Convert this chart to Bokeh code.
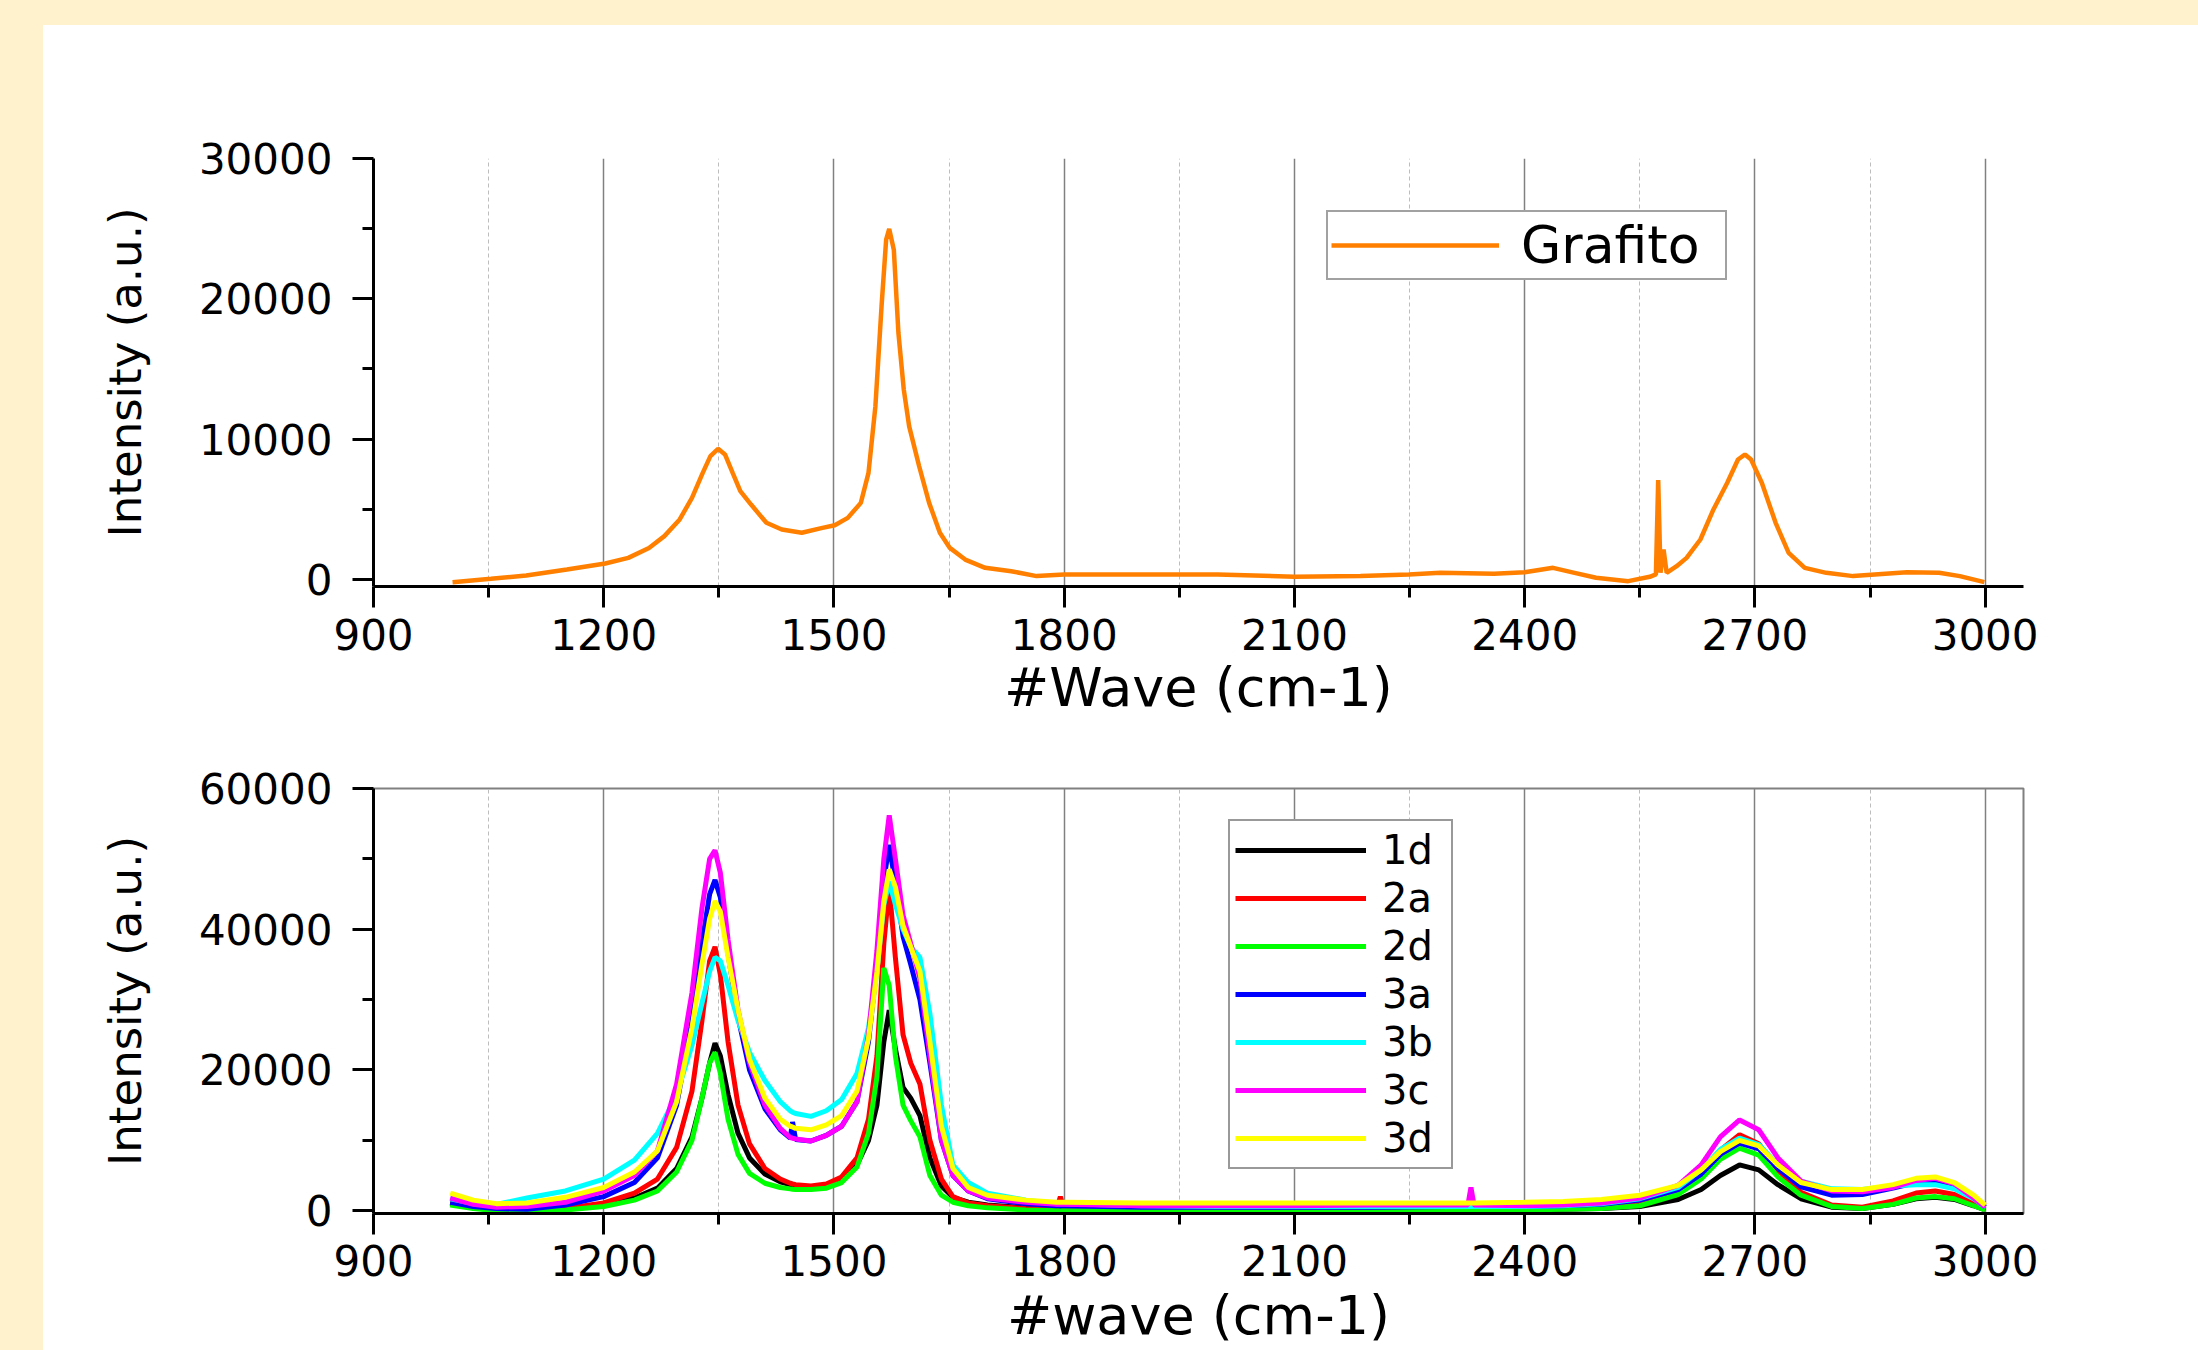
from bokeh.plotting import figure
from bokeh.models import Range1d, FixedTicker, NumeralTickFormatter, Spacer
from bokeh.layouts import column, row
from bokeh.embed import file_html
from bokeh.resources import INLINE

# ---------------- data ----------------
X_TICKS = [900, 1200, 1500, 1800, 2100, 2400, 2700, 3000]
X_MINOR = [1050, 1350, 1650, 1950, 2250, 2550, 2850]
Y1_TICKS = [0, 10000, 20000, 30000]
Y1_MINOR = [5000, 15000, 25000]
Y2_TICKS = [0, 20000, 40000, 60000]
Y2_MINOR = [10000, 30000, 50000]

grafito_x = [1003, 1053, 1099, 1152, 1202, 1232, 1259, 1279, 1299, 1315,
             1329, 1339, 1349, 1358, 1368, 1378, 1392, 1412, 1432, 1458,
             1485, 1501, 1518, 1535, 1545, 1554, 1562, 1568, 1572, 1578,
             1584, 1591, 1598, 1611, 1624, 1638, 1651, 1671, 1697, 1731,
             1764, 1800, 1863, 1937, 2000, 2100, 2186, 2249, 2290, 2360,
             2400, 2437, 2465, 2493, 2535, 2563, 2571, 2574, 2577, 2581,
             2585, 2598, 2611, 2629, 2646, 2664, 2678, 2687, 2695, 2709,
             2727, 2744, 2765, 2793, 2828, 2856, 2898, 2940, 2967, 2999]
grafito_y = [-190, 50, 285, 710, 1140, 1540, 2250, 3090, 4280, 5820,
             7600, 8790, 9310, 8910, 7600, 6300, 5340, 4040, 3560, 3330,
             3680, 3870, 4390, 5460, 7600, 12350, 19470, 24220, 24980, 23500,
             17560, 13520, 10910, 8070, 5460, 3330, 2250, 1420, 830, 590,
             240, 360, 360, 360, 360, 190, 240, 360, 475, 400,
             520, 830, 475, 120, -120, 190, 360, 7080, 475, 2140,
             475, 950, 1540, 2850, 4990, 6890, 8550, 8910, 8550, 6890,
             4040, 1900, 830, 475, 240, 360, 520, 475, 240, -190]

wave = [1000, 1030, 1060, 1100, 1150, 1200, 1240, 1270, 1295, 1315,
        1328, 1338, 1345, 1352, 1362, 1375, 1390, 1410, 1430, 1443,
        1446, 1450, 1470, 1490, 1510, 1530, 1545, 1556, 1565, 1572,
        1580, 1590, 1600, 1612, 1625, 1640, 1655, 1675, 1700, 1750,
        1790, 1795, 1800, 1900, 2000, 2100, 2200, 2300, 2326, 2330,
        2334, 2400, 2450, 2500, 2550, 2600, 2630, 2655, 2680, 2705,
        2730, 2760, 2800, 2840, 2880, 2910, 2935, 2960, 2985, 3000]

s_1d = [1000, 400, 100, 0, 200, 800, 1800, 3200, 6000, 10500,
        16000, 21000, 23800, 22000, 16500, 11000, 7500, 5200, 4100, 3700,
        3600, 3500, 3400, 3600, 4400, 6500, 10000, 15000, 24000, 28500,
        23000, 17500, 16000, 13500, 7500, 3500, 1900, 1200, 800, 400,
        200, 200, 200, 0, 0, 0, 0, 0, 0, 0,
        0, 100, 200, 300, 600, 1600, 3000, 5000, 6500, 5800,
        3700, 1700, 500, 300, 900, 1700, 1900, 1600, 700, 100]
s_2a = [1200, 500, 200, 0, 300, 1100, 2500, 4500, 9000, 17000,
        27000, 35500, 37500, 33500, 24000, 15000, 9500, 6000, 4500, 3900,
        3800, 3700, 3500, 3800, 4800, 7500, 13000, 22000, 38000, 46000,
        36000, 25000, 21000, 18000, 10000, 4500, 2000, 1100, 700, 300,
        200, 2000, 200, 100, 100, 100, 100, 100, 100, 100,
        100, 200, 300, 500, 1000, 2800, 5200, 8600, 10800, 9500,
        5800, 2600, 800, 500, 1400, 2500, 2800, 2300, 1000, 200]
s_2d = [800, 300, 0, 0, 100, 600, 1500, 2800, 5500, 10000,
        16000, 21000, 22500, 19500, 13000, 8000, 5300, 3900, 3300, 3100,
        3050, 3000, 3000, 3200, 4000, 6200, 11000, 19000, 34500, 32000,
        22000, 15000, 12800, 10500, 5000, 2200, 1200, 700, 400, 100,
        0, 0, 0, 0, 0, 0, 0, 0, 0, 0,
        0, 100, 200, 300, 700, 2300, 4500, 7300, 8900, 7900,
        4800, 2200, 600, 300, 900, 1800, 2000, 1700, 700, 100]
s_3a = [1200, 600, 300, 200, 800, 2000, 4000, 7500, 15000, 27000,
        38000, 45000, 47000, 44500, 36500, 27500, 20000, 14500, 11500, 10300,
        12600, 10100, 9900, 10700, 12000, 15500, 24000, 35000, 47000, 52000,
        46500, 39000, 35000, 30000, 21000, 10000, 5000, 2800, 1700, 1000,
        700, 700, 700, 500, 500, 500, 500, 600, 600, 600,
        600, 600, 700, 900, 1500, 3000, 5200, 8000, 9600, 8800,
        6000, 3400, 2200, 2300, 3200, 4000, 4200, 3500, 1800, 500]
s_3b = [1700, 1000, 900, 1800, 2800, 4500, 7200, 11000, 16500, 23500,
        29500, 34000, 36000, 35500, 32000, 27000, 22500, 18500, 15500, 14200,
        14000, 13800, 13400, 14200, 15800, 19500, 26000, 34000, 43500, 46800,
        43500, 40000, 37500, 36000, 28000, 15000, 6500, 4000, 2500, 1500,
        1000, 1000, 1000, 700, 600, 600, 600, 600, 600, 600,
        600, 600, 700, 1000, 1700, 3300, 5800, 8700, 10300, 9400,
        6500, 4200, 3100, 3000, 3500, 3700, 3700, 3100, 1700, 500]
s_3c = [1800, 900, 500, 600, 1200, 2800, 5000, 8500, 18000, 31000,
        43000, 50000, 51200, 48000, 38500, 28500, 21000, 15000, 11700, 10400,
        10300, 10200, 9900, 10700, 12000, 15500, 25000, 37000, 50000, 56200,
        50000, 42000, 38000, 33000, 22000, 10000, 5000, 2800, 1800, 1200,
        900, 900, 900, 700, 700, 700, 800, 800, 800, 3300,
        800, 700, 800, 1100, 1800, 3600, 6500, 10500, 12900, 11500,
        7500, 4200, 2800, 2700, 3300, 4300, 4600, 3800, 1800, 500]
s_3d = [2500, 1500, 1000, 1100, 1900, 3300, 5500, 8500, 15500, 26000,
        35000, 41500, 44000, 42500, 36000, 28500, 21500, 16000, 13000, 12000,
        11900, 11700, 11500, 12200, 13500, 17000, 24500, 34000, 44000, 48500,
        46000, 40500, 37500, 34000, 24000, 12000, 6000, 3300, 2200, 1500,
        1200, 1200, 1200, 1100, 1100, 1100, 1100, 1100, 1100, 1100,
        1100, 1200, 1300, 1600, 2200, 3600, 5800, 8400, 10000, 9200,
        6500, 4000, 3000, 3000, 3700, 4600, 4800, 4000, 2200, 800]

series_names = ["1d", "2a", "2d", "3a", "3b", "3c", "3d"]
series_values = [s_1d, s_2a, s_2d, s_3a, s_3b, s_3c, s_3d]
series_colors = ["#000000", "#FF0000", "#00FF00", "#0000FF", "#00FFFF", "#FF00FF", "#FFFF00"]

# ---------------- styling ----------------
FONT = "DejaVu Sans"
CREAM = "#FFF2CC"


def style(p, yticks, yminor):
    p.xaxis.ticker = FixedTicker(ticks=X_TICKS, minor_ticks=X_MINOR)
    p.yaxis.ticker = FixedTicker(ticks=yticks, minor_ticks=yminor)
    for ax in (p.xaxis[0], p.yaxis[0]):
        ax.axis_line_width = 3
        ax.axis_line_color = "black"
        ax.major_tick_line_width = 3
        ax.minor_tick_line_width = 3
        ax.major_tick_line_color = "black"
        ax.minor_tick_line_color = "black"
        ax.major_tick_in = 0
        ax.minor_tick_in = 0
        ax.major_tick_out = 21
        ax.minor_tick_out = 11
        ax.major_label_text_font = FONT
        ax.major_label_text_font_size = "42px"
        ax.major_label_text_color = "black"
        ax.axis_label_text_font = FONT
        ax.axis_label_text_font_style = "normal"
        ax.axis_label_text_color = "black"
        ax.formatter = NumeralTickFormatter(format="0")
    p.xaxis.major_label_standoff = 11
    p.xaxis.axis_label_text_font_size = "54px"
    p.yaxis.major_label_standoff = 20
    p.yaxis.axis_label = "Intensity (a.u.)"
    p.yaxis.axis_label_text_font_size = "45px"
    p.yaxis.axis_label_standoff = 44
    p.xgrid.grid_line_color = "#808080"
    p.xgrid.grid_line_width = 1.5
    p.xgrid.minor_grid_line_color = "#BDBDBD"
    p.xgrid.minor_grid_line_dash = "4 3"
    p.xgrid.minor_grid_line_width = 1
    p.ygrid.grid_line_color = None
    p.background_fill_color = "white"
    p.border_fill_color = "white"


# ---------------- top plot ----------------
p1 = figure(width=2155, height=696, x_range=Range1d(900, 3050), y_range=Range1d(-500, 30000),
            output_backend="svg", toolbar_location=None,
            min_border_left=330, min_border_right=175, min_border_top=133, min_border_bottom=135)
style(p1, Y1_TICKS, Y1_MINOR)
p1.outline_line_color = None
p1.xaxis.axis_label = "#Wave (cm-1)"
p1.xaxis.axis_label_standoff = 3
p1.line(grafito_x, grafito_y, line_color="#FF8000", line_width=4.5, legend_label="Grafito")
leg1 = p1.legend[0]
leg1.location = (953, 306)
leg1.margin = 0
leg1.padding = 3
leg1.spacing = 0
leg1.glyph_width = 168
leg1.glyph_height = 40
leg1.label_standoff = 22
leg1.label_width = 201
leg1.label_text_font = FONT
leg1.label_text_font_size = "52px"
leg1.label_text_color = "black"
leg1.border_line_color = "#444444"
leg1.border_line_width = 2
leg1.background_fill_color = "white"
leg1.background_fill_alpha = 1

# ---------------- bottom plot ----------------
p2 = figure(width=2155, height=629, x_range=Range1d(900, 3050), y_range=Range1d(-400, 60000),
            output_backend="svg", toolbar_location=None,
            min_border_left=330, min_border_right=175, min_border_top=67, min_border_bottom=137)
style(p2, Y2_TICKS, Y2_MINOR)
p2.outline_line_color = "#808080"
p2.outline_line_width = 2
p2.xaxis.axis_label = "#wave (cm-1)"
p2.xaxis.axis_label_standoff = 5
p2.xaxis.major_label_standoff = 10
for name, vals, col in zip(series_names, series_values, series_colors):
    p2.line(wave, vals, line_color=col, line_width=5, legend_label=name)
leg2 = p2.legend[0]
leg2.location = (855, 44)
leg2.margin = 0
leg2.padding = 5
leg2.spacing = 0
leg2.glyph_width = 131
leg2.glyph_height = 48
leg2.label_height = 48
leg2.label_standoff = 16
leg2.label_width = 64
leg2.label_text_font = FONT
leg2.label_text_font_size = "40px"
leg2.label_text_color = "black"
leg2.border_line_color = "#333333"
leg2.border_line_width = 2
leg2.background_fill_color = "white"
leg2.background_fill_alpha = 1
leg2.label_text_line_height = 1.0

# ---------------- page layout ----------------
top_strip = Spacer(width=2198, height=25, styles={"background-color": CREAM})
left_strip = Spacer(width=43, height=1325, styles={"background-color": CREAM})
plots = column(p1, p2, spacing=0, styles={"background-color": "white"})
layout = column(top_strip, row(left_strip, plots, spacing=0), spacing=0,
                styles={"background-color": CREAM})

open("out.html", "w").write(file_html(layout, INLINE))
